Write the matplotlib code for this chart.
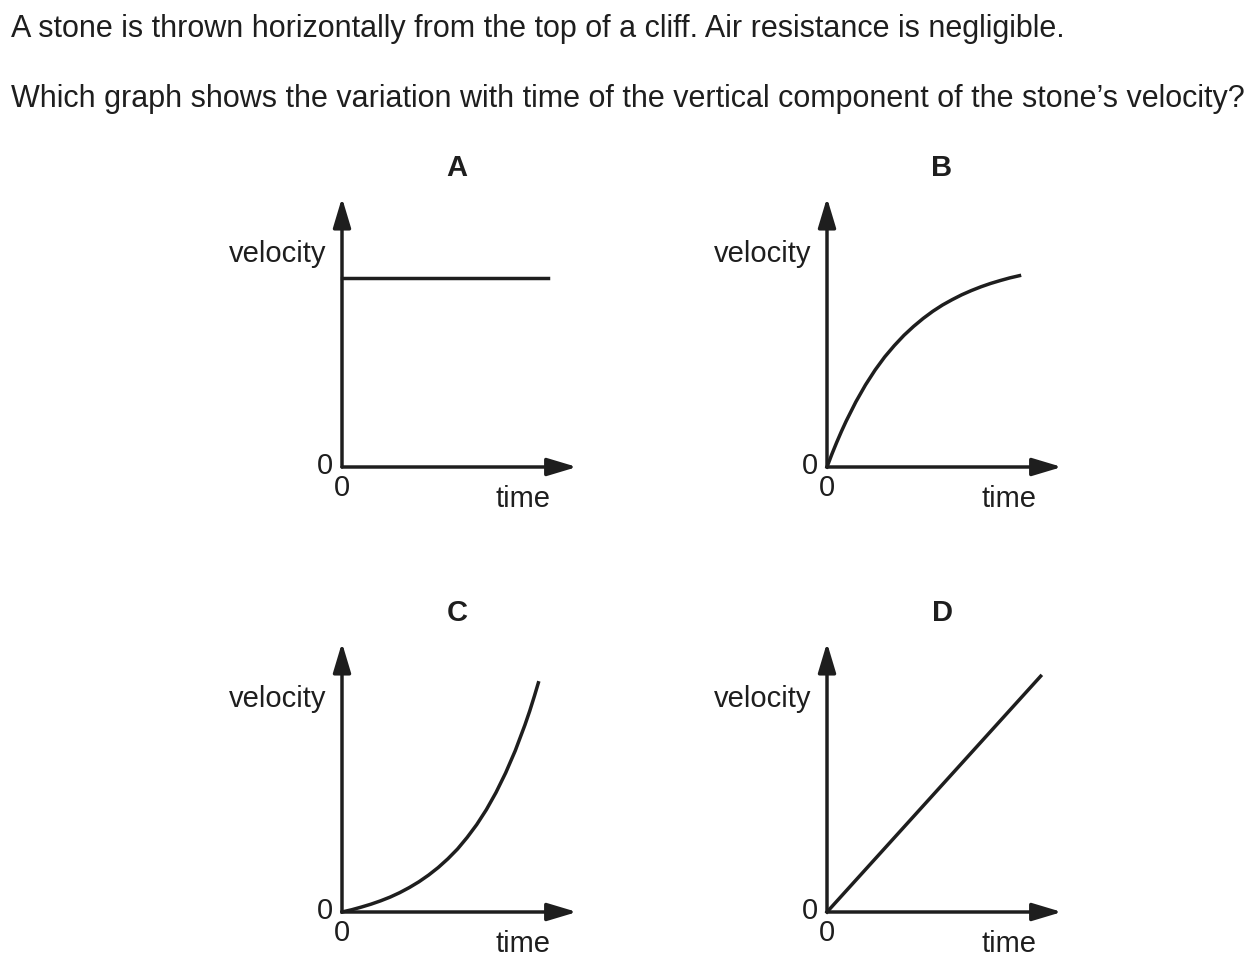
import matplotlib.pyplot as plt

plt.rcParams['font.family'] = ['Liberation Sans', 'DejaVu Sans']

# 데이터 (time, velocity) - 그림에서 읽은 값, 축 끝 = 12
t_a = [0, 10.7]
v_a = [8.5, 8.5]

t_b = [0, 0.25, 0.5, 0.75, 1, 1.5, 2, 2.5, 3, 3.5, 4, 4.5, 5, 5.5, 6, 6.5,
       7, 7.5, 8, 8.5, 9, 9.5, 10]
v_b = [0, 0.57, 1.10, 1.60, 2.07, 2.93, 3.69, 4.36, 4.95, 5.46, 5.92, 6.32,
       6.68, 7.00, 7.28, 7.52, 7.74, 7.93, 8.10, 8.25, 8.38, 8.50, 8.60]

t_c = [0, 0.5, 1, 1.5, 2, 2.5, 3, 3.5, 4, 4.5, 5, 5.5, 6, 6.5, 7, 7.5, 8,
       8.5, 9, 9.5, 9.75, 10, 10.2]
v_c = [0, 0.10, 0.22, 0.35, 0.50, 0.67, 0.87, 1.10, 1.36, 1.66, 2.00, 2.39,
       2.83, 3.35, 3.93, 4.60, 5.37, 6.25, 7.25, 8.40, 9.03, 9.72, 10.3]

t_d = [0, 11.1]
v_d = [0, 10.6]

letters = ['A', 'B', 'C', 'D']
series = [(t_a, v_a), (t_b, v_b), (t_c, v_c), (t_d, v_d)]
origins = [(342, 467), (827, 467), (342, 912), (827, 912)]  # px

W, H = 1260, 969
ink = '#1e1e1e'
lw = 2.5
fs = 21

fig = plt.figure(figsize=(W / 100, H / 100), dpi=100)


def px(x, y):
    return x / W, 1 - y / H


# 질문 텍스트
fig.text(*px(11, 29), 'A stone is thrown horizontally from the top of a cliff. Air resistance is negligible.',
         fontsize=22, color=ink, va='center', ha='left')
fig.text(*px(11, 99), 'Which graph shows the variation with time of the vertical component of the stone\u2019s velocity?',
         fontsize=22, color=ink, va='center', ha='left')

for name, (t, v), (ox, oy) in zip(letters, series, origins):
    ax = fig.add_axes([ox / W, (H - oy) / H, 231 / W, 267 / H])
    ax.set_xlim(0, 12)
    ax.set_ylim(0, 12)
    ax.axis('off')

    # 화살표 축
    for tip in [(12.2, 0), (0, 12.1)]:
        ax.annotate('', xy=tip, xytext=(0, 0), annotation_clip=False,
                    arrowprops=dict(arrowstyle='-|>,head_length=0.9,head_width=0.27',
                                    lw=lw, color=ink, mutation_scale=20,
                                    shrinkA=0, shrinkB=0))

    ax.plot(t, v, color=ink, lw=lw, clip_on=False)

    # 라벨
    fig.text(*px(ox + 115, oy - 299), name, fontsize=fs, fontweight='bold',
             color=ink, ha='center', va='center')
    fig.text(*px(ox - 16, oy - 213), 'velocity', fontsize=fs, color=ink,
             ha='right', va='center')
    fig.text(*px(ox - 17, oy - 1), '0', fontsize=fs, color=ink, ha='center', va='center')
    fig.text(*px(ox, oy + 21), '0', fontsize=fs, color=ink, ha='center', va='center')
    fig.text(*px(ox + 209, oy + 32), 'time', fontsize=fs, color=ink,
             ha='right', va='center')

fig.savefig('out.png', dpi=100, facecolor='white')
